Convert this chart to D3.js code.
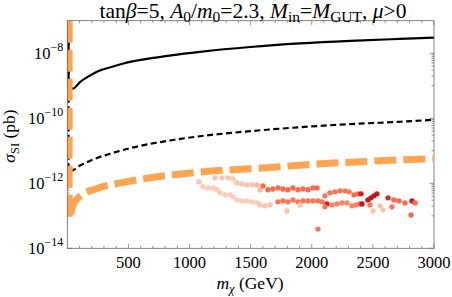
<!DOCTYPE html>
<html>
<head>
<meta charset="utf-8">
<script src="https://cdn.jsdelivr.net/npm/d3@7"></script>
<style>
body{margin:0;background:#fff;}
text{font-family:"Liberation Serif","DejaVu Serif",serif;fill:#000;}
</style>
</head>
<body>
<svg id="chart" width="452" height="297"></svg>
<script>
// data
var massTicks=[500,1000,1500,2000,2500,3000];
var sigmaTicks=[-14,-12,-10,-8];

// black solid curve (first point = top of the vertical part near m=0)
var solidMass=[10,10,47,104,170,243,374,513,652,850,1086,1495,1904,2313,2722,3000];
var solidSigma=[1e-7,8.2e-10,8.2e-10,1.3e-9,1.9e-9,2.7e-9,3.9e-9,5.4e-9,6.7e-9,8.6e-9,1.1e-8,1.55e-8,2.0e-8,2.4e-8,2.75e-8,3.0e-8];

// black dashed curve
var dashMass=[10,10,30,104,243,374,513,668,850,1086,1495,1904,2313,2722,3000];
var dashSigma=[1e-7,2.4e-12,2.4e-12,3.5e-12,6.0e-12,8.6e-12,1.2e-11,1.6e-11,2.1e-11,2.8e-11,4.0e-11,5.3e-11,6.6e-11,7.8e-11,9e-11];

// orange thick dashed curve
var orangeMass=[15,15,50,104,227,450,677,1086,1740,1904,2400,2992];
var orangeSigma=[1e-7,8e-14,2.2e-13,4.0e-13,6.6e-13,1.05e-12,1.47e-12,2.2e-12,3.2e-12,3.6e-12,4.6e-12,5.7e-12];

// scatter points: mass, sigma, shade (0..1 on the red scale)
var ptMass=[1077,1209,1266,1315,1356,1388,1429,1470,1511,1552,1577,1601,
  1642,1683,1724,1765,1805,1846,1887,1928,1969,2010,2043,
  2108,2149,2190,2231,2272,2305,2345,2378,2403,
  2460,2484,2509,2533,2624,2672,2713,2762,2820,2845,
  1110,1151,1192,1225,1249,1290,1331,1356,1388,1429,1470,1511,1552,
  1577,1617,1658,1724,1765,1805,1846,1887,1928,1969,2010,2051,2084,
  1797,1904,2124,2108,2165,2206,2247,2288,2329,2362,2394,2411,
  2476,2501,2558,2583,2656,2812,2051];
var ptSigma=[1.11e-12,1.47e-12,1.47e-12,1.47e-12,1.37e-12,1.03e-12,9.6e-13,8.95e-13,8.95e-13,8.95e-13,6.3e-13,8.3e-13,
  6.3e-13,6.7e-13,7.2e-13,6.7e-13,6.3e-13,7.2e-13,6.3e-13,6.7e-13,6.3e-13,7.2e-13,7.2e-13,
  4.1e-13,5.07e-13,5.45e-13,5.85e-13,5.85e-13,5.45e-13,4.4e-13,4.72e-13,4.72e-13,
  3.08e-13,3.56e-13,4.1e-13,4.72e-13,3.56e-13,3.08e-13,2.87e-13,2.49e-13,2.87e-13,2.49e-13,
  7.8e-13,7.2e-13,7.2e-13,6.3e-13,5.07e-13,4.4e-13,4.4e-13,3.82e-13,3.08e-13,2.87e-13,2.87e-13,2.68e-13,2.49e-13,
  2.16e-13,2.02e-13,2.16e-13,2.68e-13,2.87e-13,2.68e-13,3.08e-13,2.68e-13,2.87e-13,2.87e-13,2.87e-13,2.87e-13,2.68e-13,
  1.41e-13,2.16e-13,2.32e-13,1.88e-13,2.16e-13,2.32e-13,2.49e-13,2.49e-13,2.02e-13,2.16e-13,2.32e-13,2.32e-13,
  2.16e-13,1.41e-13,2.02e-13,1.52e-13,1.88e-13,1.06e-13,3.9e-14];
var ptShade=[0.15,0.15,0.15,0.15,0.15,0.15,0.15,0.15,0.15,0.2,0.2,0.5,
  0.5,0.5,0.5,0.5,0.5,0.5,0.5,0.5,0.5,0.5,0.5,
  0.45,0.45,0.45,0.45,0.45,0.45,0.5,0.5,0.8,
  0.85,0.85,0.85,0.85,0.75,0.5,0.5,0.5,0.85,0.5,
  0.12,0.12,0.12,0.12,0.12,0.12,0.12,0.12,0.12,0.12,0.12,0.12,0.12,
  0.15,0.15,0.15,0.45,0.45,0.45,0.45,0.45,0.45,0.45,0.45,0.45,0.45,
  0.15,0.15,0.8,0.45,0.4,0.4,0.4,0.4,0.4,0.4,0.45,0.85,
  0.45,0.15,0.15,0.15,0.45,0.5,0.45];

var svg=d3.select("#chart"),
    margin={top:20.7,right:18,bottom:48.7,left:67.3},
    width=+svg.attr("width")-margin.left-margin.right,
    height=+svg.attr("height")-margin.top-margin.bottom,
    g=svg.append("g").attr("transform","translate("+margin.left+","+margin.top+")");

var x=d3.scaleLinear().domain([0,3000]).range([0,width]);
var y=d3.scaleLog().domain([1e-14,1e-7]).range([height,0]);

svg.append("defs").append("clipPath").attr("id","clip")
  .append("rect").attr("width",width).attr("height",height);

// minor ticks
var minorX=d3.range(100,3000,100).filter(function(d){return d%500!=0;});
var minorY=[];
sigmaTicks.forEach(function(e){
  for(var k=2;k<=9;k++) minorY.push(k*Math.pow(10,e-1));
  minorY.push(Math.pow(10,e+1));
});
minorY=minorY.filter(function(d){return d>1e-14&&d<1e-7;});

var ticks=g.append("g").attr("stroke","#555").attr("stroke-width",0.6);
minorX.forEach(function(d){
  ticks.append("line").attr("x1",x(d)).attr("x2",x(d)).attr("y1",height).attr("y2",height-2.5);
  ticks.append("line").attr("x1",x(d)).attr("x2",x(d)).attr("y1",0).attr("y2",2.5);
});
massTicks.forEach(function(d){
  ticks.append("line").attr("x1",x(d)).attr("x2",x(d)).attr("y1",height).attr("y2",height-4.5);
  ticks.append("line").attr("x1",x(d)).attr("x2",x(d)).attr("y1",0).attr("y2",4.5);
});
minorY.forEach(function(d){
  ticks.append("line").attr("x1",0).attr("x2",2.5).attr("y1",y(d)).attr("y2",y(d));
  ticks.append("line").attr("x1",width).attr("x2",width-2.5).attr("y1",y(d)).attr("y2",y(d));
});
sigmaTicks.forEach(function(e){
  var v=Math.pow(10,e);
  ticks.append("line").attr("x1",0).attr("x2",4.5).attr("y1",y(v)).attr("y2",y(v));
  ticks.append("line").attr("x1",width).attr("x2",width-4.5).attr("y1",y(v)).attr("y2",y(v));
});

// scatter
var pts=g.append("g").attr("clip-path","url(#clip)");
ptMass.forEach(function(m,i){
  pts.append("circle")
    .attr("cx",x(m)).attr("cy",y(ptSigma[i])).attr("r",2.7)
    .attr("fill",d3.interpolateReds(0.1+ptShade[i]*0.8));
});

var straight=d3.line()
  .x(function(d){return x(d[0]);})
  .y(function(d){return y(d[1]);});
var smooth=d3.line()
  .curve(d3.curveMonotoneX)
  .x(function(d){return x(d[0]);})
  .y(function(d){return y(d[1]);});

// vertical part near m=0 joined to the smooth part
function curvePath(ms,ss){
  var pts=d3.zip(ms,ss);
  var a=straight(pts.slice(0,2));
  var b=smooth(pts.slice(1));
  return a+"L"+b.slice(1);
}

var curves=g.append("g").attr("clip-path","url(#clip)");
curves.append("path")
  .attr("fill","none").attr("stroke","#000").attr("stroke-width",2.2)
  .attr("d",curvePath(solidMass,solidSigma));
curves.append("path")
  .attr("fill","none").attr("stroke","#000").attr("stroke-width",2.2)
  .attr("stroke-dasharray","6,3.5")
  .attr("d",curvePath(dashMass,dashSigma));
curves.append("path")
  .attr("fill","none").attr("stroke","#ffa54f").attr("stroke-width",7)
  .attr("stroke-dasharray","22,7")
  .attr("d",curvePath(orangeMass,orangeSigma));

// frame
g.append("rect").attr("width",width).attr("height",height)
  .attr("fill","none").attr("stroke","#666").attr("stroke-width",0.8);

// tick labels
massTicks.forEach(function(d){
  g.append("text").attr("x",x(d)).attr("y",height+20)
    .attr("text-anchor","middle").attr("font-size",16.5).text(d);
});
sigmaTicks.forEach(function(e){
  var t=g.append("text").attr("x",-4).attr("y",y(Math.pow(10,e))+5.5)
    .attr("text-anchor","end").attr("font-size",16.5);
  t.append("tspan").text("10");
  t.append("tspan").attr("dy",-7.5).attr("font-size",12).text("\u2212"+(-e));
});

// axis titles
var xl=svg.append("text").attr("x",250).attr("y",289).attr("text-anchor","middle").attr("font-size",17.5);
xl.append("tspan").attr("font-style","italic").text("m");
xl.append("tspan").attr("dy",3.5).attr("font-size",12.5).attr("font-style","italic").text("\u03c7");
xl.append("tspan").attr("dy",-3.5).text(" (GeV)");

var yl=svg.append("text").attr("transform","translate(15,136) rotate(-90)")
  .attr("text-anchor","middle").attr("font-size",17.5);
yl.append("tspan").attr("font-style","italic").text("\u03c3");
yl.append("tspan").attr("dy",3.5).attr("font-size",12.5).text("SI");
yl.append("tspan").attr("dy",-3.5).text(" (pb)");

// title
var tt=svg.append("text").attr("x",253).attr("y",17.5).attr("text-anchor","middle").attr("font-size",21.5);
function part(txt,it,dy,fs){
  var s=tt.append("tspan").text(txt);
  if(it) s.attr("font-style","italic");
  if(dy) s.attr("dy",dy);
  if(fs) s.attr("font-size",fs);
}
part("tan");part("\u03b2",true);part("=5, ");
part("A",true);part("0",false,4,15.5);part("/",false,-4);
part("m",true);part("0",false,4,15.5);part("=2.3, ",false,-4);
part("M",true);part("in",false,4,15.5);part("=",false,-4);
part("M",true);part("GUT",false,4,15.5);part(", ",false,-4);
part("\u03bc",true);part(">0");
</script>
</body>
</html>
